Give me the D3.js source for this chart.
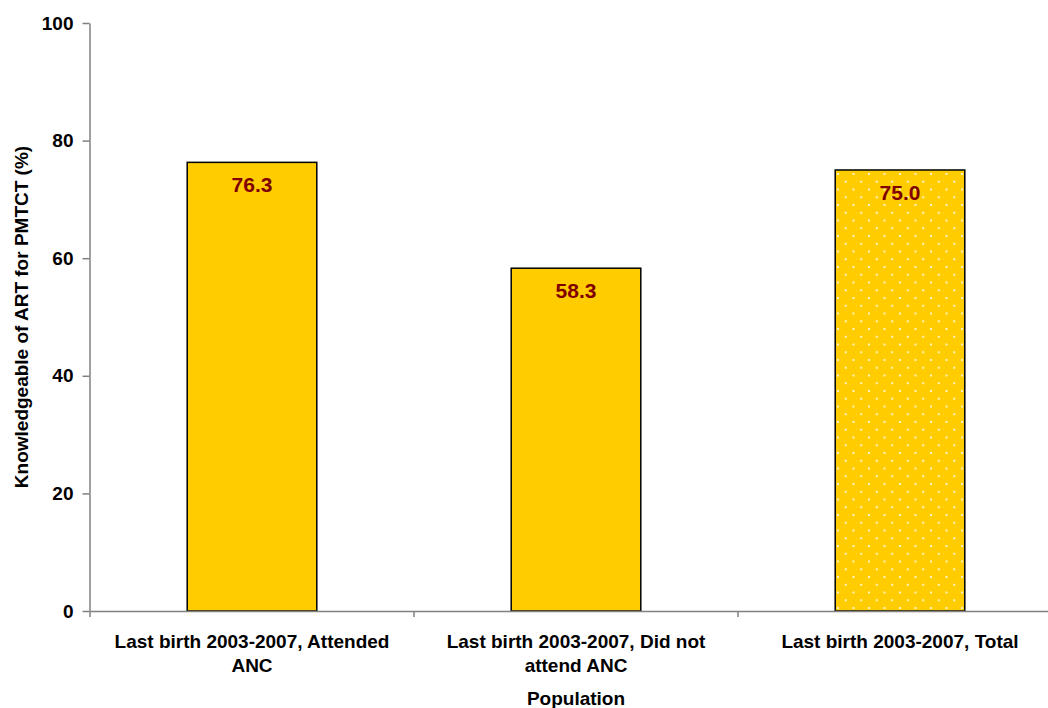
<!DOCTYPE html>
<html><head><meta charset="utf-8">
<script src="https://cdn.jsdelivr.net/npm/d3@7"></script>
<style>body{margin:0;background:#fff}svg{display:block}text{font-family:"Liberation Sans",Arial,sans-serif;font-weight:bold}</style>
</head><body><svg id="c" width="1048" height="708"></svg>
<script>
const categories = ["Last birth 2003-2007, Attended ANC","Last birth 2003-2007, Did not attend ANC","Last birth 2003-2007, Total"];
const values = [76.3, 58.3, 75.0];
const valueLabels = ["76.3","58.3","75.0"];
const patterned = [false, false, true];
const yTicks = [0,20,40,60,80,100];
const yTitle = "Knowledgeable of ART for PMTCT (%)";
const xTitle = "Population";

const FS = 19;
const svg = d3.select("#c");
const x = d3.scaleBand().domain(categories).range([90,1062]).paddingInner(0.6).paddingOuter(0.3);
const y = d3.scaleLinear().domain([0,100]).range([611,23]);

const defs = svg.append("defs");
const pat = defs.append("pattern").attr("id","dots").attr("patternUnits","userSpaceOnUse")
  .attr("width",15.5).attr("height",15.5).attr("x",838).attr("y",174);
pat.append("rect").attr("width",15.5).attr("height",15.5).attr("fill","#ffcc00");
[[0,0],[15.5,0],[0,15.5],[15.5,15.5],[7.75,7.75]].forEach(p=>
  pat.append("rect").attr("x",p[0]-1).attr("y",p[1]-1).attr("width",2).attr("height",2).attr("fill","#fff5c0"));

// bars
svg.selectAll("rect.bar").data(categories).join("rect").attr("class","bar")
  .attr("x",d=>x(d)).attr("width",x.bandwidth())
  .attr("y",(d,i)=>y(values[i])).attr("height",(d,i)=>y(0)-y(values[i]))
  .attr("fill",(d,i)=>patterned[i]?"url(#dots)":"#ffcc00")
  .attr("stroke","#000").attr("stroke-width",1.5);

// value labels
svg.selectAll("text.val").data(categories).join("text").attr("class","val")
  .attr("x",d=>x(d)+x.bandwidth()/2).attr("y",(d,i)=>y(values[i])+29.5)
  .attr("text-anchor","middle").attr("fill","#800000").attr("font-size",21)
  .text((d,i)=>valueLabels[i]);

// y axis
const yAxis = svg.append("g").attr("transform","translate(89.5,0)")
  .call(d3.axisLeft(y).tickValues(yTicks).tickSize(7).tickSizeOuter(0).tickPadding(9));
yAxis.select(".domain").attr("stroke","#808080").attr("stroke-width",1.5);
yAxis.selectAll(".tick line").attr("stroke","#808080").attr("stroke-width",1.5);
yAxis.selectAll(".tick text").attr("font-size",FS).attr("fill","#000")
  .attr("font-family","Liberation Sans, Arial, sans-serif").attr("font-weight","bold");

// x axis
const xAxis = svg.append("g").attr("transform","translate(0,611)")
  .call(d3.axisBottom(x).tickSize(0).tickSizeOuter(0).tickPadding(0).tickFormat(""));
xAxis.select(".domain").attr("stroke","#808080").attr("stroke-width",1.5);
xAxis.selectAll(".tick").remove();
const bounds = [90].concat(categories.map(c=>x(c)-x.step()*x.paddingInner()/2+x.step()));
xAxis.selectAll("line.bt").data(bounds).join("line").attr("class","bt")
  .attr("x1",d=>d).attr("x2",d=>d).attr("y1",0).attr("y2",6)
  .attr("stroke","#808080").attr("stroke-width",1.5);

// category labels with wrapping
function wrapLines(text, maxW, fs){
  const ctx = document.createElement("canvas").getContext("2d");
  ctx.font = "bold "+fs+"px 'Liberation Sans', Arial";
  const words = text.split(" "); const lines=[]; let cur="";
  words.forEach(w=>{const t=cur?cur+" "+w:w; if(ctx.measureText(t).width>maxW && cur){lines.push(cur);cur=w;} else cur=t;});
  if(cur) lines.push(cur); return lines;
}
categories.forEach(c=>{
  const lines = wrapLines(c, 295, FS);
  const t = svg.append("text").attr("text-anchor","middle").attr("font-size",FS).attr("fill","#000");
  lines.forEach((l,i)=>t.append("tspan").attr("x",x(c)+x.bandwidth()/2).attr("y",648+i*24).text(l));
});

// titles
svg.append("text").attr("x",576).attr("y",705).attr("text-anchor","middle").attr("font-size",FS).text(xTitle);
svg.append("text").attr("transform","translate(28,317) rotate(-90)").attr("text-anchor","middle").attr("font-size",FS).text(yTitle);
</script></body></html>
